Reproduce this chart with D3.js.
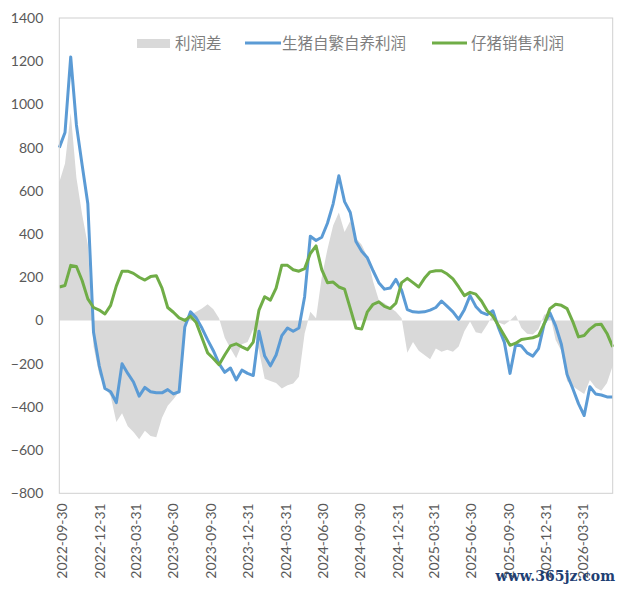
<!DOCTYPE html>
<html>
<head>
<meta charset="utf-8">
<script src="https://cdn.jsdelivr.net/npm/d3@7"></script>
<style>
  html, body { margin: 0; padding: 0; background: #fff; }
  svg { display: block; }
  .tick-label { font-family: Lato, "Noto Sans", sans-serif; font-size: 14px; fill: #595959; }
  .legend-label { font-family: "Noto Sans CJK SC", sans-serif; font-size: 15.5px; fill: #7f7f7f; }
</style>
</head>
<body>
<div id="chart"></div>
<script>
'use strict';

// fortnightly readings, first one on 2022-09-30
var startDate = '2022-09-30';
var stepDays = 14;

var xTickLabels = ['2022-09-30', '2022-12-31', '2023-03-31', '2023-06-30', '2023-09-30',
  '2023-12-31', '2024-03-31', '2024-06-30', '2024-09-30', '2024-12-31',
  '2025-03-31', '2025-06-30', '2025-09-30', '2025-12-31', '2026-03-31'];

var yTicks = [-800, -600, -400, -200, 0, 200, 400, 600, 800, 1000, 1200, 1400];

var seriesNames = ['利润差', '生猪自繁自养利润', '仔猪销售利润'];

// 利润差
var profitGap = [640, 727, 960, 660, 490, 350, -120, -250, -310, -350,
  -470, -430, -490, -516, -550, -510, -535, -540, -450, -395,
  -365, -330, -20, 25, 40, 55, 75, 52, 10, -80,
  -130, -175, -110, -100, -40, -140, -270, -280, -290, -315,
  -300, -292, -260, -60, 40, 10, 200, 330, 440, 500,
  410, 460, 380, 350, 295, 180, 95, 80, 60, 40,
  10, -150, -100, -140, -160, -180, -130, -145, -135, -145,
  -120, -50, -5, -55, -60, -20, 28, -10, -20, 0,
  25, -35, -62, -65, -40, 28, 30, -90, -140, -280,
  -305, -323, -340, -275, -310, -325, -290, -210];

// 生猪自繁自养利润
var selfBredProfit = [800, 870, 1220, 905, 720, 540, -55, -210, -315, -330,
  -380, -200, -245, -285, -350, -310, -330, -335, -335, -320,
  -340, -330, -30, 40, 12, -35, -90, -140, -200, -240,
  -220, -275, -230, -245, -255, -50, -165, -210, -160, -70,
  -35, -50, -35, 110, 390, 370, 385, 450, 540, 670,
  550, 500, 365, 320, 290, 230, 175, 145, 150, 190,
  140, 50, 40, 38, 40, 48, 60, 90, 65, 40,
  5, 50, 115, 65, 37, 27, 45, -35, -100, -245,
  -110, -118, -150, -165, -130, -15, 35, -25, -110, -250,
  -315, -385, -440, -307, -340, -345, -354, -354];

// 仔猪销售利润
var pigletProfit = [155, 162, 255, 250, 185, 100, 60, 48, 30, 70,
  160, 228, 228, 218, 200, 187, 203, 207, 150, 60,
  38, 12, 0, 20, -10, -80, -150, -176, -205, -160,
  -118, -108, -122, -135, -100, 48, 110, 94, 150, 256,
  255, 235, 228, 240, 310, 345, 235, 175, 178, 155,
  145, 56, -35, -40, 40, 75, 86, 65, 55, 80,
  175, 195, 175, 155, 195, 225, 230, 230, 215, 192,
  155, 115, 130, 122, 90, 45, 20, -25, -70, -115,
  -105, -88, -84, -80, -70, -15, 55, 75, 70, 55,
  -5, -76, -70, -40, -20, -18, -60, -122];

var width = 624,
  height = 590;

var plot = { left: 59.3, right: 612.7, top: 18, bottom: 493.3 };

var parseDate = d3.utcParse('%Y-%m-%d');
var start = parseDate(startDate);

var rows = profitGap.map(function (d, i) {
  return {
    date: d3.utcDay.offset(start, i * stepDays),
    gap: d,
    selfBred: selfBredProfit[i],
    piglet: pigletProfit[i]
  };
});

var x = d3.scaleUtc()
  .domain([rows[0].date, rows[rows.length - 1].date])
  .range([plot.left, plot.right]);

var y = d3.scaleLinear()
  .domain([-800, 1400])
  .range([plot.bottom, plot.top]);

var svg = d3.select('#chart').append('svg')
  .attr('width', width)
  .attr('height', height);

svg.append('rect')
  .attr('width', width)
  .attr('height', height)
  .attr('fill', '#fff');

// gray area for the profit gap
var area = d3.area()
  .x(function (d) { return x(d.date); })
  .y0(y(0))
  .y1(function (d) { return y(d.gap); });

svg.append('path')
  .datum(rows)
  .attr('d', area)
  .attr('fill', '#d9d9d9');

var line = function (key) {
  return d3.line()
    .x(function (d) { return x(d.date); })
    .y(function (d) { return y(d[key]); });
};

svg.append('path')
  .datum(rows)
  .attr('d', line('selfBred'))
  .attr('fill', 'none')
  .attr('stroke', '#5b9bd5')
  .attr('stroke-width', 3)
  .attr('stroke-linejoin', 'round');

svg.append('path')
  .datum(rows)
  .attr('d', line('piglet'))
  .attr('fill', 'none')
  .attr('stroke', '#70ad47')
  .attr('stroke-width', 3)
  .attr('stroke-linejoin', 'round');

// plot frame
svg.append('rect')
  .attr('x', plot.left)
  .attr('y', plot.top)
  .attr('width', plot.right - plot.left)
  .attr('height', plot.bottom - plot.top)
  .attr('fill', 'none')
  .attr('stroke', '#d0d0d0')
  .attr('stroke-width', 1);

// y axis labels
var yAxis = d3.axisLeft(y)
  .tickValues(yTicks)
  .tickSize(0)
  .tickPadding(16)
  .tickFormat(d3.format('d'));

var yG = svg.append('g')
  .attr('transform', 'translate(' + plot.left + ',0)')
  .call(yAxis);
yG.select('.domain').remove();
yG.selectAll('text').attr('class', 'tick-label');

// x axis labels, rotated
var xAxis = d3.axisBottom(x)
  .tickValues(xTickLabels.map(parseDate))
  .tickSize(0)
  .tickFormat(d3.utcFormat('%Y-%m-%d'));

var xG = svg.append('g')
  .attr('transform', 'translate(0,' + plot.bottom + ')')
  .call(xAxis);
xG.select('.domain').remove();
xG.selectAll('text')
  .attr('class', 'tick-label')
  .attr('transform', 'rotate(-90)')
  .attr('text-anchor', 'end')
  .attr('x', -10)
  .attr('y', 2.5)
  .attr('dy', '0.35em');

// legend
var legend = svg.append('g');

legend.append('rect')
  .attr('x', 137).attr('y', 39)
  .attr('width', 33).attr('height', 9)
  .attr('fill', '#d9d9d9');
legend.append('text')
  .attr('class', 'legend-label')
  .attr('x', 175).attr('y', 49)
  .text(seriesNames[0]);

legend.append('line')
  .attr('x1', 245).attr('x2', 281)
  .attr('y1', 43).attr('y2', 43)
  .attr('stroke', '#5b9bd5').attr('stroke-width', 3);
legend.append('text')
  .attr('class', 'legend-label')
  .attr('x', 282).attr('y', 49)
  .text(seriesNames[1]);

legend.append('line')
  .attr('x1', 432).attr('x2', 467)
  .attr('y1', 43).attr('y2', 43)
  .attr('stroke', '#70ad47').attr('stroke-width', 3);
legend.append('text')
  .attr('class', 'legend-label')
  .attr('x', 471).attr('y', 49)
  .text(seriesNames[2]);

// site watermark
svg.append('text')
  .attr('x', 615).attr('y', 581)
  .attr('text-anchor', 'end')
  .attr('font-family', '"DejaVu Serif", serif')
  .attr('font-size', 14)
  .attr('font-weight', 'bold')
  .attr('fill', '#1f3f73')
  .text('www.365jz.com');
</script>
</body>
</html>
